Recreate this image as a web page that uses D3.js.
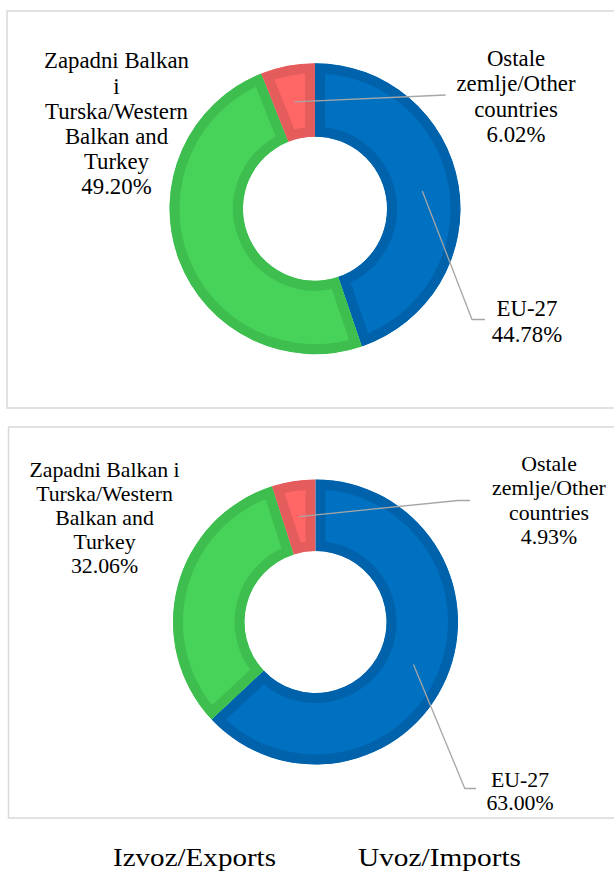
<!DOCTYPE html>
<html><head><meta charset="utf-8">
<script src="https://cdn.jsdelivr.net/npm/d3@7"></script>
<style>
html,body{margin:0;padding:0;background:#fff;}
svg{display:block;}
text{font-family:"Liberation Serif";}
</style></head>
<body>
<svg id="chart" width="614" height="871"></svg>
<script>
// ---- data ----
const categories = ["EU-27", "Zapadni Balkan i Turska/Western Balkan and Turkey", "Ostale zemlje/Other countries"];
const exportValues = [44.78, 49.20, 6.02];
const importValues = [63.00, 32.06, 4.93];
const exportLabelLines = [["EU-27", "44.78%"], ["Zapadni Balkan", "i", "Turska/Western", "Balkan and", "Turkey", "49.20%"], ["Ostale", "zemlje/Other", "countries", "6.02%"]];
const importLabelLines = [["EU-27", "63.00%"], ["Zapadni Balkan i", "Turska/Western", "Balkan and", "Turkey", "32.06%"], ["Ostale", "zemlje/Other", "countries", "4.93%"]];
const titles = ["Izvoz/Exports", "Uvoz/Imports"];

// ---- styles ----
const fillColors = ["#0070C0", "#47D35A", "#FF6666"];
const bandColors = ["#0062AB", "#3FBE50", "#E45C5C"];
const FONT = "Liberation Serif";

const svg = d3.select("#chart");

const panels = [
  { values: exportValues, lines: exportLabelLines, frame: [7, 11, 640, 397], cx: 315, cy: 208.7, R: 145.5, r: 72, fs: 22.8, lh: 25.4,
    labels: [ {x: 527, y: 316, lh: 25.7}, {x: 116.5, y: 68.3, lh: 25.2}, {x: 516, y: 66, lh: 25.4} ],
    leaders: [ [[485, 319.5], [472, 319.5]], null, [[445.6, 95]] ] },
  { values: importValues, lines: importLabelLines, frame: [8.5, 427, 640, 391], cx: 315.5, cy: 622, R: 142.5, r: 71, fs: 21.8, lh: 24.2,
    labels: [ {x: 520, y: 786.7, lh: 23.5}, {x: 104.5, y: 477.3, lh: 24}, {x: 549, y: 470.7, lh: 24.5} ],
    leaders: [ [[476, 788.5], [464.8, 788.5]], null, [[470, 500.5], [458, 500.5]] ] }
];

const defs = svg.append("defs");

panels.forEach((p, pi) => {
  const g = svg.append("g");
  g.append("rect")
    .attr("x", p.frame[0]).attr("y", p.frame[1])
    .attr("width", p.frame[2]).attr("height", p.frame[3])
    .attr("fill", "#fff").attr("stroke", "#D9D9D9").attr("stroke-width", 1.5);

  const pie = d3.pie().sort(null).value(d => d)(p.values);
  const arc = d3.arc().innerRadius(p.r).outerRadius(p.R);
  const cg = g.append("g").attr("transform", `translate(${p.cx},${p.cy})`);

  pie.forEach((d, i) => {
    const id = `clip-${pi}-${i}`;
    defs.append("clipPath").attr("id", id)
      .append("path").attr("d", arc(d));
    cg.append("path")
      .attr("d", arc(d))
      .attr("clip-path", `url(#${id})`)
      .attr("fill", fillColors[i])
      .attr("stroke", bandColors[i])
      .attr("stroke-width", 20)
      .attr("stroke-linejoin", "miter")
      .append("title").text(categories[i]);
  });

  // leader lines
  pie.forEach((d, i) => {
    if (!p.leaders[i]) return;
    const c = arc.centroid(d);
    const pts = [[p.cx + c[0], p.cy + c[1]]].concat(p.leaders[i].slice().reverse());
    g.append("path")
      .attr("d", d3.line()(pts))
      .attr("fill", "none").attr("stroke", "#A6A6A6").attr("stroke-width", 1.3);
  });

  // labels
  p.lines.forEach((lines, i) => {
    const L = p.labels[i];
    const t = g.append("text")
      .attr("text-anchor", "middle")
      .attr("font-family", FONT)
      .attr("font-size", p.fs)
      .attr("fill", "#000");
    lines.forEach((ln, k) => {
      t.append("tspan").attr("x", L.x).attr("y", L.y + k * L.lh).text(ln);
    });
  });
});

// bottom titles (text is horizontally wider in the reference)
const titleX = [194.5, 439.5];
titles.forEach((t, i) => {
  svg.append("text")
    .attr("x", titleX[i]).attr("y", 866)
    .attr("text-anchor", "middle")
    .attr("font-family", FONT)
    .attr("font-size", 25.5)
    .attr("textLength", 163)
    .attr("lengthAdjust", "spacingAndGlyphs")
    .attr("fill", "#000")
    .text(t);
});
</script>
</body></html>
